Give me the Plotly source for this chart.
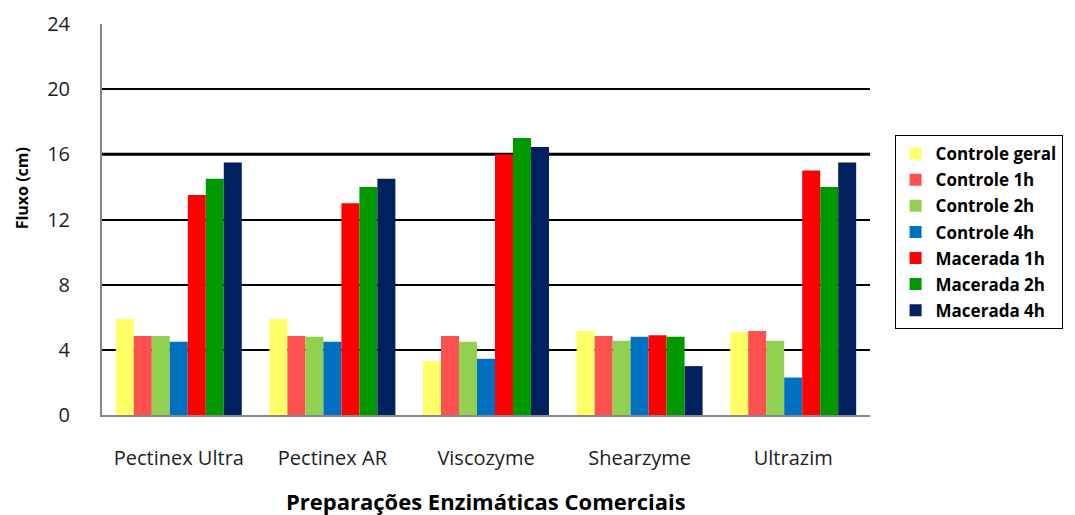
import plotly.graph_objects as go

categories = ["Pectinex Ultra", "Pectinex AR", "Viscozyme", "Shearzyme", "Ultrazim"]
series_names = ["Controle geral", "Controle 1h", "Controle 2h", "Controle 4h",
                "Macerada 1h", "Macerada 2h", "Macerada 4h"]
controle_geral = [5.9, 5.9, 3.3, 5.15, 5.1]
controle_1h = [4.85, 4.85, 4.85, 4.85, 5.15]
controle_2h = [4.85, 4.8, 4.5, 4.55, 4.55]
controle_4h = [4.5, 4.5, 3.45, 4.8, 2.3]
macerada_1h = [13.5, 13.0, 16.0, 4.9, 15.0]
macerada_2h = [14.5, 14.0, 17.0, 4.8, 14.0]
macerada_4h = [15.5, 14.5, 16.45, 3.0, 15.5]
y_ticks = [0, 4, 8, 12, 16, 20, 24]

series_values = [controle_geral, controle_1h, controle_2h, controle_4h,
                 macerada_1h, macerada_2h, macerada_4h]
colors = ["#FFFF66", "#FF5050", "#92D050", "#0070C0", "#FF0000", "#009900", "#002060"]

FONT = "Open Sans"

fig = go.Figure()
for name, vals, col in zip(series_names, series_values, colors):
    fig.add_trace(go.Bar(x=categories, y=vals, name=name, marker_color=col,
                         marker_line_width=0, legendgroup=name))

# page has an 8px body margin, so the figure is drawn 8px smaller
fig.update_layout(
    width=1067, height=507,
    barmode="group", bargap=0.18, bargroupgap=0,
    plot_bgcolor="white", paper_bgcolor="white",
    margin=dict(l=94, r=205, t=16, b=100, autoexpand=False),
    font=dict(family=FONT, size=19, color="#222"),
    showlegend=True,
    legend=dict(x=1.032, y=0.716, xanchor="left", yanchor="top",
                bordercolor="black", borderwidth=1,
                font=dict(family=FONT, size=17, color="black", weight="bold"),
                tracegroupgap=1, itemwidth=30),
    xaxis=dict(showline=True, linecolor="#888888", linewidth=2,
               ticks="", tickfont=dict(size=20, color="#222"),
               ticklabelstandoff=24),
    yaxis=dict(range=[0, 24], tickvals=y_ticks, showgrid=True,
               gridcolor="black", gridwidth=1.5, showline=True,
               linecolor="#888888", linewidth=2, zeroline=False,
               ticks="", tickfont=dict(size=20, color="#222"),
               ticklabelstandoff=26),
)

# heavier reference line at 16
fig.add_shape(type="line", xref="paper", yref="y", x0=0, x1=1, y0=y_ticks[4], y1=y_ticks[4],
              line=dict(color="black", width=3), layer="below")

fig.add_annotation(text="Fluxo (cm)", xref="paper", yref="paper",
                   x=-0.104, y=0.58, xanchor="center", yanchor="middle",
                   textangle=-90, showarrow=False,
                   font=dict(family=FONT, size=16, color="black", weight="bold"))
fig.add_annotation(text="Preparações Enzimáticas Comerciais", xref="paper", yref="paper",
                   x=0.5, y=-0.22, xanchor="center", yanchor="middle", showarrow=False,
                   font=dict(family=FONT, size=22, color="black", weight="bold"))

fig.write_html("out.html")
